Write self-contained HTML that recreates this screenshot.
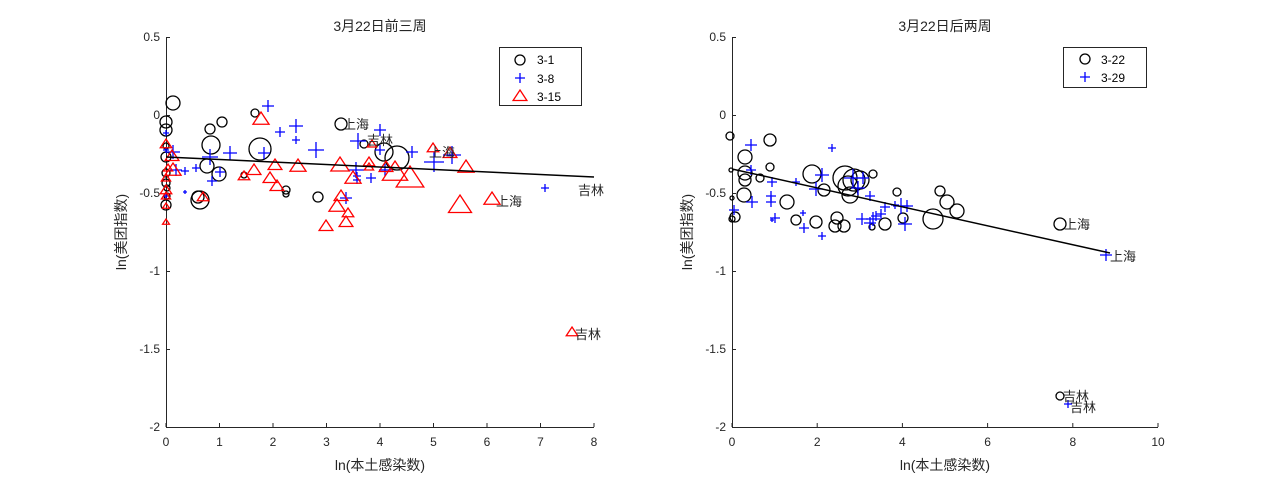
<!DOCTYPE html>
<html><head><meta charset="utf-8"><style>
body{margin:0;background:#fff}
svg{display:block;font-family:"Liberation Sans","Noto Sans CJK SC",sans-serif}
</style></head><body>
<svg id="s" width="1280" height="480" viewBox="0 0 1280 480">
<rect width="1280" height="480" fill="#fff"/>
<g stroke="#262626" stroke-width="1" fill="none">
<path d="M166.5 37V427.5H594"/>
<path d="M732.5 37V427.5H1158"/>
</g>
<g id="ticks" stroke="#262626" stroke-width="1"></g>
<g font-size="12" fill="#262626" text-anchor="end">
<text x="160" y="41">0.5</text><text x="160" y="119">0</text><text x="160" y="197">-0.5</text><text x="160" y="275">-1</text><text x="160" y="353">-1.5</text><text x="160" y="431">-2</text>
<text x="726" y="41">0.5</text><text x="726" y="119">0</text><text x="726" y="197">-0.5</text><text x="726" y="275">-1</text><text x="726" y="353">-1.5</text><text x="726" y="431">-2</text>
</g>
<g font-size="12" fill="#262626" text-anchor="middle">
<text x="166" y="446">0</text><text x="219.5" y="446">1</text><text x="273" y="446">2</text><text x="326.5" y="446">3</text><text x="380" y="446">4</text><text x="433.5" y="446">5</text><text x="487" y="446">6</text><text x="540.5" y="446">7</text><text x="594" y="446">8</text>
<text x="732" y="446">0</text><text x="817.2" y="446">2</text><text x="902.4" y="446">4</text><text x="987.6" y="446">6</text><text x="1072.8" y="446">8</text><text x="1158" y="446">10</text>
</g>
<g font-size="14" fill="#262626" text-anchor="middle">
<text x="380" y="31">3月22日前三周</text>
<text x="945" y="31">3月22日后两周</text>
<text x="380" y="470">ln(本土感染数)</text>
<text x="945" y="470">ln(本土感染数)</text>
<text transform="translate(126 232) rotate(-90)">ln(美团指数)</text>
<text transform="translate(692 232) rotate(-90)">ln(美团指数)</text>
</g>
<g id="pts" fill="none" stroke-width="1.3"></g>
<g stroke="#000" stroke-width="1.5">
<line x1="166" y1="157" x2="594" y2="177"/>
<line x1="732" y1="169" x2="1110" y2="253"/>
</g>
<g font-size="13" fill="#262626">
<text x="343" y="129">上海</text><text x="429" y="157">上海</text><text x="496" y="206">上海</text>
<text x="367" y="145">吉林</text><text x="578" y="195">吉林</text><text x="575" y="339">吉林</text>
<text x="1064" y="229">上海</text><text x="1110" y="261">上海</text>
<text x="1063" y="401">吉林</text><text x="1070" y="412">吉林</text>
</g>
<g>
<rect x="499.5" y="47.5" width="82" height="58" fill="#fff" stroke="#262626"/>
<rect x="1063.5" y="47.5" width="83" height="40" fill="#fff" stroke="#262626"/>
</g>
<g font-size="12" fill="#000">
<text x="537" y="64">3-1</text><text x="537" y="83">3-8</text><text x="537" y="101">3-15</text>
<text x="1101" y="64">3-22</text><text x="1101" y="82">3-29</text>
</g>
<g id="leg" fill="none" stroke-width="1.3"></g>
</svg>
<script>
var NS="http://www.w3.org/2000/svg";
function el(g,t,a){var e=document.createElementNS(NS,t);for(var k in a)e.setAttribute(k,a[k]);g.appendChild(e);}
var P=document.getElementById("pts"),T=document.getElementById("ticks"),L=document.getElementById("leg");
function C(g,x,y,r){el(g,"circle",{cx:x,cy:y,r:r,stroke:"#000"});}
function X(g,x,y,s){el(g,"path",{d:"M"+(x-s)+" "+y+"H"+(x+s)+"M"+x+" "+(y-s)+"V"+(y+s),stroke:"#00f"});}
function Tr(g,x,y,s){el(g,"path",{d:"M"+x+" "+(y-s)+"L"+(x+s*1.15)+" "+(y+s*0.75)+"L"+(x-s*1.15)+" "+(y+s*0.75)+"Z",stroke:"#f00"});}
// ticks
[37,115,193,271,349,427].forEach(function(y){el(T,"line",{x1:166,y1:y+.5,x2:170,y2:y+.5});el(T,"line",{x1:732,y1:y+.5,x2:736,y2:y+.5});});
for(var i=0;i<=8;i++){var x=166+i*53.5;el(T,"line",{x1:x,y1:427,x2:x,y2:423});}
for(var i=0;i<=5;i++){var x=732+i*85.2;el(T,"line",{x1:x,y1:427,x2:x,y2:423});}
[[173,103,7],[166,122,6],[166,130,6],[166,157,5],[166,173,4],[166,183,4],[166,205,5],[210,129,5],[222,122,5],[211,145,9],[207,166,7],[219,174,7],[260,149,11],[255,113,4],[244,175,3],[200,200,9],[198,197,6],[286,190,4],[286,194,3],[318,197,5],[341,124,6],[364,144,4],[384,152,9],[397,158,12],[166,146,3],[167,188,3],[167,196,3]].forEach(function(p){C(P,p[0],p[1],p[2]);});
[[268,106,6],[280,132,5],[296,126,7],[296,140,4],[316,150,8],[358,141,8],[380,130,6],[380,150,5],[356,170,8],[385,170,6],[412,152,6],[434,162,10],[452,155,9],[357,176,4],[357,180,4],[346,198,6],[371,178,5],[210,157,8],[230,153,7],[264,153,6],[220,172,5],[212,181,5],[173,152,7],[176,170,6],[185,171,4],[196,168,4],[185,192,2],[166,133,3],[166,150,3],[166,196,3],[545,188,4]].forEach(function(p){X(P,p[0],p[1],p[2]);});
[[166,144,5],[172,156,6],[173,170,7],[168,168,4],[166,178,4],[166,190,5],[166,196,4],[166,206,3],[166,222,3],[203,197,5],[261,119,7],[254,170,6],[275,165,6],[270,178,6],[298,166,7],[244,176,5],[277,186,6],[341,196,6],[337,206,7],[348,213,5],[346,222,6],[326,226,6],[340,165,8],[353,178,7],[395,172,11],[410,178,12],[369,162,5],[369,167,4],[372,144,4],[386,167,6],[433,148,5],[450,153,6],[466,167,7],[460,205,10],[492,199,7],[572,332,5]].forEach(function(p){Tr(P,p[0],p[1],p[2]);});
[[730,136,4],[770,140,6],[745,157,7],[770,167,4],[745,173,7],[760,178,4],[745,180,6],[744,195,7],[787,202,7],[812,174,9],[824,190,6],[845,178,12],[848,186,10],[854,180,11],[860,180,9],[850,195,8],[873,174,4],[897,192,4],[837,218,6],[796,220,5],[816,222,6],[835,226,6],[844,226,6],[885,224,6],[903,218,5],[933,219,10],[940,191,5],[947,202,7],[957,211,7],[1060,224,6],[1060,396,4],[731,170,2],[732,198,2],[735,217,5],[732,219,3],[872,227,3]].forEach(function(p){C(P,p[0],p[1],p[2]);});
[[751,145,6],[751,170,5],[832,148,4],[772,182,5],[771,196,5],[796,182,4],[771,202,5],[752,202,6],[775,218,5],[804,228,5],[822,175,7],[816,189,7],[870,196,5],[862,219,6],[873,219,7],[870,223,6],[876,216,5],[895,205,4],[901,206,8],[907,206,6],[905,224,7],[885,207,5],[881,214,5],[853,178,9],[858,188,7],[863,178,6],[822,236,4],[734,210,5],[1068,404,4],[1106,255,6],[803,213,3],[772,220,2]].forEach(function(p){X(P,p[0],p[1],p[2]);});
C(L,520,60,5);X(L,520,78,5);Tr(L,520,96,6);
C(L,1085,59,5);X(L,1085,77,5);
</script>
</body></html>
